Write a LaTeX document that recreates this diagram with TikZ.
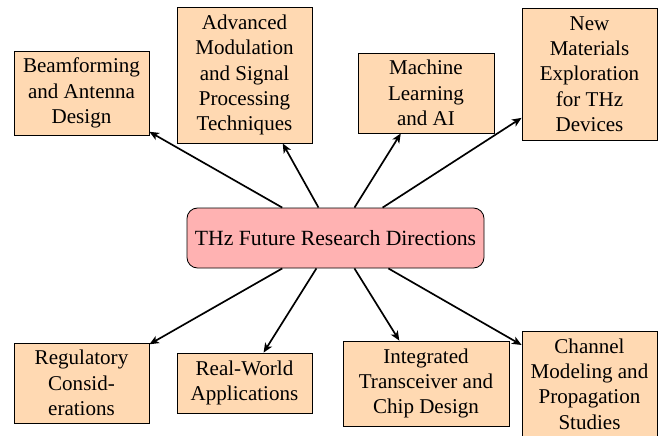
\documentclass[tikz,border=0pt]{standalone}
\usepackage{fontspec}
\setmainfont{Liberation Serif}
\usetikzlibrary{arrows.meta}
\begin{document}
\begin{tikzpicture}[x=0.475pt,y=-0.475pt,
  sz/.style 2 args={minimum width=#1*0.475pt, minimum height=#2*0.475pt},
  box/.style={draw=black, fill=orange!30, align=center, inner sep=0pt},
  hub/.style={draw=black, fill=red!30, rounded corners=5pt, align=center, inner sep=0pt},
  link/.style={-{Stealth[length=4.5pt,width=3.8pt,inset=1.2pt]}, line width=0.8pt}]
\useasboundingbox (0,0) rectangle (663,435);
\node[hub, sz={297}{60}, font=\fontsize{10.3}{12}\selectfont] (c) at (335.5,238) {THz Future Research Directions};
\node[box, sz={135}{84}] (b1) at (81.5,93) {Beamforming\\and Antenna\\Design};
\node[box, sz={135}{136}] (b2) at (244.5,75) {Advanced\\Modulation\\and Signal\\Processing\\Techniques};
\node[box, sz={136}{80}] (b3) at (426,93) {Machine\\Learning\\and AI};
\node[box, sz={135}{132}] (b4) at (589.5,74) {New\\Materials\\Exploration\\for THz\\Devices};
\node[box, sz={135}{80}] (b5) at (81.5,383) {Regulatory\\Consid-\\erations};
\node[box, sz={135}{60}] (b6) at (244.5,383) {Real-World\\Applications};
\node[box, sz={166}{85}] (b7) at (426,383.5) {Integrated\\Transceiver and\\Chip Design};
\node[box, sz={135}{106}] (b8) at (589.5,384) {Channel\\Modeling and\\Propagation\\Studies};
\foreach \t in {b1,b2,b3,b4,b5,b6,b7,b8}
  \draw[link] (c) -- (\t);
\end{tikzpicture}
\end{document}
